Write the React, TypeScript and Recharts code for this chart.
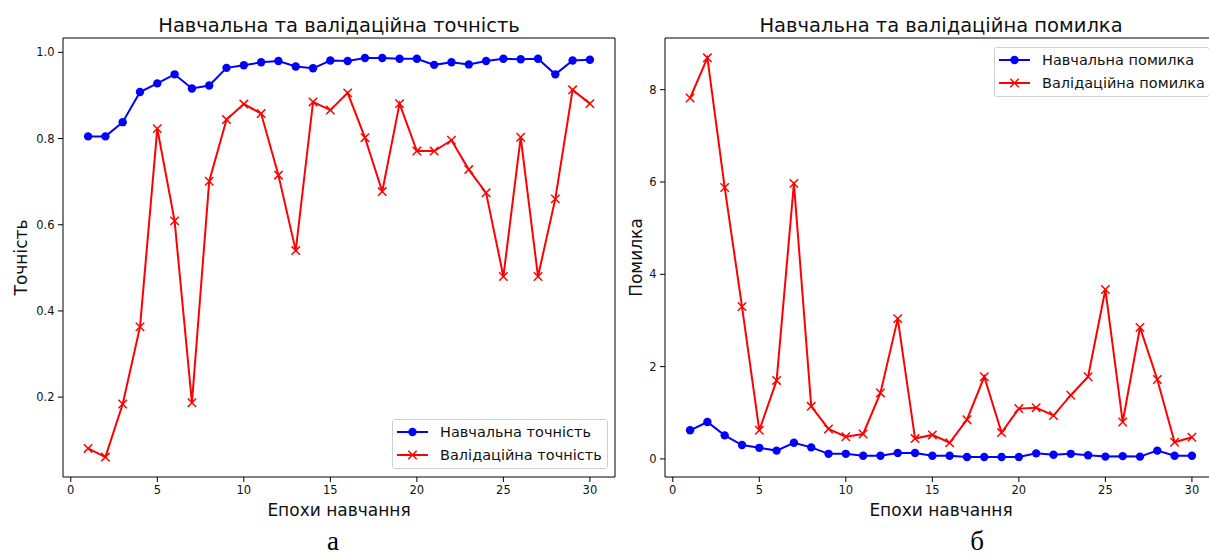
import React from "react";
import { LineChart, Line, XAxis, YAxis, Legend, Label, ReferenceLine } from "recharts";

const epochs = [1, 2, 3, 4, 5, 6, 7, 8, 9, 10, 11, 12, 13, 14, 15, 16, 17, 18, 19, 20, 21, 22, 23, 24, 25, 26, 27, 28, 29, 30];

const trainAccuracy = [0.805, 0.805, 0.838, 0.908, 0.928, 0.949, 0.916, 0.923, 0.964, 0.97, 0.977, 0.98, 0.967, 0.963, 0.981, 0.98, 0.987, 0.987, 0.985, 0.985, 0.971, 0.977, 0.972, 0.98, 0.985, 0.984, 0.985, 0.949, 0.981, 0.983];
const valAccuracy = [0.081, 0.061, 0.184, 0.363, 0.823, 0.609, 0.187, 0.701, 0.844, 0.88, 0.858, 0.715, 0.54, 0.885, 0.866, 0.906, 0.802, 0.677, 0.881, 0.771, 0.771, 0.796, 0.728, 0.674, 0.48, 0.803, 0.48, 0.66, 0.913, 0.881];

const trainLoss = [0.62, 0.8, 0.51, 0.3, 0.24, 0.18, 0.35, 0.25, 0.11, 0.11, 0.07, 0.07, 0.13, 0.13, 0.07, 0.07, 0.04, 0.04, 0.04, 0.04, 0.12, 0.09, 0.11, 0.08, 0.05, 0.06, 0.05, 0.18, 0.07, 0.07];
const valLoss = [7.82, 8.69, 5.88, 3.3, 0.62, 1.7, 5.97, 1.14, 0.65, 0.48, 0.54, 1.43, 3.04, 0.44, 0.52, 0.35, 0.85, 1.78, 0.57, 1.09, 1.11, 0.94, 1.38, 1.78, 3.67, 0.8, 2.85, 1.72, 0.36, 0.47];

const epochTicks = [0, 5, 10, 15, 20, 25, 30];
const accuracyTicks = [0.2, 0.4, 0.6, 0.8, 1.0];
const lossTicks = [0, 2, 4, 6, 8];

const accuracyData = epochs.map((e, i) => ({ epoch: e, train: trainAccuracy[i], val: valAccuracy[i] }));
const lossData = epochs.map((e, i) => ({ epoch: e, train: trainLoss[i], val: valLoss[i] }));

const FONT = "'DejaVu Sans', sans-serif";
const TEXT = "#111";
const BLUE = "#0000ff";
const RED = "#ff0000";
const X_DOMAIN: [number, number] = [-0.45, 31.45];

const CrossDot = (props: any) => {
  const { cx, cy, index } = props;
  if (cx == null || cy == null) return null;
  const s = 4.2;
  return (
    <g key={`x-${index}`}>
      <line x1={cx - s} y1={cy - s} x2={cx + s} y2={cy + s} stroke={RED} strokeWidth={1.5} />
      <line x1={cx - s} y1={cy + s} x2={cx + s} y2={cy - s} stroke={RED} strokeWidth={1.5} />
    </g>
  );
};

function LegendBox({ names }: { names: [string, string] }) {
  return (
    <div
      style={{
        width: 216,
        height: 50,
        boxSizing: "border-box",
        border: "1px solid #d0d0d0",
        borderRadius: 3,
        background: "rgba(255,255,255,0.8)",
        paddingTop: 1,
        fontFamily: FONT,
        fontSize: 14.5,
        color: TEXT,
      }}
    >
      {names.map((name, i) => (
        <div key={name} style={{ display: "flex", alignItems: "center", height: 22.4 }}>
          <svg width={31} height={22} style={{ marginLeft: 4, flex: "none" }}>
            <line x1={0} x2={31} y1={11} y2={11} stroke={i === 0 ? BLUE : RED} strokeWidth={2} />
            {i === 0 ? (
              <circle cx={15.5} cy={11} r={4.2} fill={BLUE} />
            ) : (
              <g stroke={RED} strokeWidth={1.5}>
                <line x1={11.3} y1={6.8} x2={19.7} y2={15.2} />
                <line x1={11.3} y1={15.2} x2={19.7} y2={6.8} />
              </g>
            )}
          </svg>
          <span style={{ marginLeft: 12, whiteSpace: "nowrap" }}>{name}</span>
        </div>
      ))}
    </div>
  );
}

type PanelProps = {
  left: number;
  width: number;
  yAxisWidth: number;
  data: { epoch: number; train: number; val: number }[];
  yDomain: [number, number];
  yTicks: number[];
  yFormat: (v: number) => string;
  yLabel: string;
  yLabelX: number;
  names: [string, string];
  legendPos: { left: number; top: number };
};

function Panel(p: PanelProps) {
  const tick = { fontSize: 11.5, fill: TEXT, fontFamily: FONT };
  return (
    <div style={{ position: "absolute", left: p.left, top: 0 }}>
      <LineChart width={p.width} height={556} data={p.data} margin={{ top: 38, right: p.left === 0 ? 5 : 0, bottom: 0, left: 0 }}>
        <XAxis
          dataKey="epoch"
          type="number"
          domain={X_DOMAIN}
          ticks={epochTicks}
          allowDataOverflow
          height={79}
          tick={tick}
          tickSize={5}
          tickMargin={4}
          stroke="#000"
          tickLine={{ stroke: "#000" }}
        >
          <Label
            content={(lp: any) => {
              const vb = lp.viewBox || {};
              const x = (vb.x ?? 0) + (vb.width ?? 0) / 2;
              return (
                <text x={x} y={516} textAnchor="middle" fontSize={17} fontFamily={FONT} fill={TEXT}>
                  Епохи навчання
                </text>
              );
            }}
          />
        </XAxis>
        <YAxis
          type="number"
          domain={p.yDomain}
          ticks={p.yTicks}
          allowDataOverflow
          width={p.yAxisWidth}
          tick={tick}
          tickSize={5}
          tickMargin={3.5}
          tickFormatter={p.yFormat}
          stroke="#000"
          tickLine={{ stroke: "#000" }}
        >
          <Label
            content={() => (
              <text
                x={p.yLabelX}
                y={257.5}
                transform={`rotate(-90, ${p.yLabelX}, 257.5)`}
                textAnchor="middle"
                fontSize={17}
                fontFamily={FONT}
                fill={TEXT}
              >
                {p.yLabel}
              </text>
            )}
          />
        </YAxis>
        {/* top and right spines */}
        <ReferenceLine y={p.yDomain[1]} stroke="#000" strokeWidth={1} ifOverflow="visible" />
        <ReferenceLine x={X_DOMAIN[1]} stroke="#000" strokeWidth={1} ifOverflow="visible" />
        <Legend
          layout="vertical"
          align="center"
          verticalAlign="middle"
          wrapperStyle={{ left: p.legendPos.left, top: p.legendPos.top, width: 216 }}
          content={() => <LegendBox names={p.names} />}
        />
        <Line
          dataKey="train"
          name={p.names[0]}
          stroke={BLUE}
          strokeWidth={2}
          dot={{ r: 4.2, fill: BLUE, stroke: BLUE, strokeWidth: 0 }}
          isAnimationActive={false}
        />
        <Line dataKey="val" name={p.names[1]} stroke={RED} strokeWidth={2} dot={CrossDot} isAnimationActive={false} />
      </LineChart>
    </div>
  );
}

export default function App() {
  return (
    <div
      style={{
        position: "absolute",
        left: 0,
        top: 0,
        width: 1209,
        height: 556,
        overflow: "hidden",
        background: "#fff",
      }}
    >
      <Panel
        left={0}
        width={620}
        yAxisWidth={63}
        data={accuracyData}
        yDomain={[0.0147, 1.0333]}
        yTicks={accuracyTicks}
        yFormat={(v) => v.toFixed(1)}
        yLabel="Точність"
        yLabelX={26.5}
        names={["Навчальна точність", "Валідаційна точність"]}
        legendPos={{ left: 392, top: 419 }}
      />
      <Panel
        left={600}
        width={617}
        yAxisWidth={65}
        data={lossData}
        yDomain={[-0.392, 9.12]}
        yTicks={lossTicks}
        yFormat={(v) => String(v)}
        yLabel="Помилка"
        yLabelX={42}
        names={["Навчальна помилка", "Валідаційна помилка"]}
        legendPos={{ left: 394, top: 47 }}
      />
      <svg width={1209} height={556} style={{ position: "absolute", left: 0, top: 0, pointerEvents: "none" }}>
        <text x={339} y={31.5} textAnchor="middle" fontSize={19.5} fontFamily={FONT} fill={TEXT}>
          Навчальна та валідаційна точність
        </text>
        <text x={941} y={31.5} textAnchor="middle" fontSize={19.5} fontFamily={FONT} fill={TEXT}>
          Навчальна та валідаційна помилка
        </text>
        <text x={333} y={550} textAnchor="middle" fontSize={27} fontFamily="'Liberation Serif', 'Times New Roman', serif" fill="#000">
          а
        </text>
        <text x={977} y={550} textAnchor="middle" fontSize={27} fontFamily="'Liberation Serif', 'Times New Roman', serif" fill="#000">
          б
        </text>
      </svg>
    </div>
  );
}
